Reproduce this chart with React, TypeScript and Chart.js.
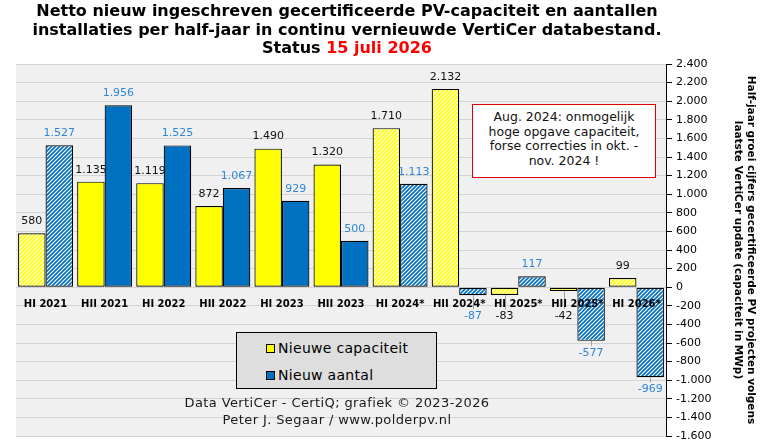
import { useEffect, useRef } from 'react'
import { Chart, registerables } from 'chart.js'

Chart.register(...registerables)

const categories = ['HI 2021', 'HII 2021', 'HI 2022', 'HII 2022', 'HI 2023', 'HII 2023', 'HI 2024*', 'HII 2024*', 'HI 2025*', 'HII 2025*', 'HI 2026*']
const newCapacity = [580, 1135, 1119, 872, 1490, 1320, 1710, 2132, -83, -42, 99]
const newCount = [1527, 1956, 1525, 1067, 929, 500, 1113, -87, 117, -577, -969]
// hatched bars: first half-year + provisional / corrected periods
const hatched = [true, false, false, false, false, false, true, true, true, true, true]

const axisTitle = [
  'Half-jaar groei cijfers gecertificeerde PV projecten volgens',
  'laatste VertiCer update (capaciteit in MWp)',
]
const noteLines = ['Aug. 2024: onmogelijk', 'hoge opgave capaciteit,', 'forse correcties in okt. -', 'nov. 2024 !']

const YELLOW = '#FFFF00'
const BLUE = '#0070C0'
const LABEL_BLUE = '#2F86D8'
const FONT = '"DejaVu Sans", Verdana, sans-serif'

const fmt = (v: number) => {
  const s = Math.abs(v).toString().replace(/\B(?=(\d{3})+(?!\d))/g, '.')
  return (v < 0 ? '-' : '') + s
}

function makeHatch(base: string, stripe: string) {
  const c = document.createElement('canvas')
  c.width = 4
  c.height = 4
  const g = c.getContext('2d')!
  g.fillStyle = base
  g.fillRect(0, 0, 4, 4)
  g.strokeStyle = stripe
  g.lineWidth = 1.2
  g.beginPath()
  g.moveTo(-1, 5); g.lineTo(5, -1)
  g.moveTo(-1, 1); g.lineTo(1, -1)
  g.moveTo(3, 5); g.lineTo(5, 3)
  g.stroke()
  return g.createPattern(c, 'repeat')!
}

const plotBg = {
  id: 'plotBg',
  beforeDraw(chart: any) {
    const { ctx, chartArea: a } = chart
    ctx.save()
    ctx.fillStyle = '#F0F0F0'
    ctx.fillRect(a.left, a.top, a.right - a.left, a.bottom - a.top)
    ctx.restore()
  },
}

const barLabels = {
  id: 'barLabels',
  afterDatasetsDraw(chart: any) {
    const { ctx } = chart
    const yScale = chart.scales.y
    const xScale = chart.scales.x
    const zero = yScale.getPixelForValue(0)
    ctx.save()
    ctx.font = `11px ${FONT}`
    ctx.textAlign = 'center'
    ctx.textBaseline = 'middle'
    chart.data.datasets.forEach((ds: any, di: number) => {
      const meta = chart.getDatasetMeta(di)
      meta.data.forEach((el: any, i: number) => {
        const v = ds.data[i]
        let ly
        if (v >= 0) {
          ly = el.y - 12
        } else {
          ly = Math.max(el.y + 12, zero + 29)
          if (ly - 7 > el.y + 3) {
            ctx.strokeStyle = '#A0A0A0'
            ctx.lineWidth = 1
            ctx.beginPath()
            ctx.moveTo(Math.round(el.x) + 0.5, el.y)
            ctx.lineTo(Math.round(el.x) + 0.5, ly - 7)
            ctx.stroke()
          }
        }
        ctx.fillStyle = di === 0 ? '#111' : LABEL_BLUE
        ctx.fillText(fmt(v), el.x, ly)
      })
    })
    // category names sit just under the zero line
    ctx.font = `bold 10px ${FONT}`
    ctx.fillStyle = '#000'
    categories.forEach((c, i) => {
      ctx.fillText(c, xScale.getPixelForValue(i), zero + 17)
    })
    ctx.restore()
  },
}

export default function App() {
  const chartRef = useRef<HTMLCanvasElement>(null)
  const chartInstance = useRef<Chart | null>(null)

  useEffect(() => {
    if (!chartRef.current) return
    if (chartInstance.current) chartInstance.current.destroy()

    const yellowHatch = makeHatch(YELLOW, '#FFFFFF')
    const blueHatch = makeHatch(BLUE, '#FFFFFF')

    chartInstance.current = new Chart(chartRef.current, {
      type: 'bar',
      data: {
        labels: categories,
        datasets: [
          {
            label: 'Nieuwe capaciteit',
            data: newCapacity,
            backgroundColor: hatched.map(h => (h ? yellowHatch : YELLOW)),
            borderColor: '#000',
            borderWidth: 1.2,
            borderSkipped: false,
            categoryPercentage: 0.93,
            barPercentage: 1,
          },
          {
            label: 'Nieuw aantal',
            data: newCount,
            backgroundColor: hatched.map(h => (h ? blueHatch : BLUE)),
            borderColor: '#000',
            borderWidth: 1.2,
            borderSkipped: false,
            categoryPercentage: 0.93,
            barPercentage: 1,
          },
        ],
      },
      options: {
        responsive: true,
        maintainAspectRatio: false,
        animation: false,
        layout: { padding: { top: 64, left: 16, bottom: 8, right: 2 } },
        plugins: {
          legend: { display: false },
          tooltip: { enabled: false },
        },
        scales: {
          x: { display: false },
          y: {
            position: 'right',
            min: -1600,
            max: 2400,
            afterFit: (scale: any) => {
              scale.width = 93
              // plot edges come from layout padding, not tick label height
              scale.paddingTop = 0
              scale.paddingBottom = 0
            },
            ticks: {
              stepSize: 200,
              callback: (v: any) => fmt(Number(v)),
              font: { family: FONT, size: 11 },
              color: '#000',
              padding: 4,
            },
            grid: { color: '#D4D4D4', tickColor: '#000', tickLength: 6 },
            border: { color: '#000', width: 1 },
            title: {
              display: true,
              text: axisTitle,
              font: { family: FONT, size: 10.5, weight: 'bold', lineHeight: 1.25 },
              color: '#000',
              padding: { top: 2, bottom: 0 },
            },
          },
        },
      },
      plugins: [plotBg, barLabels],
    })

    return () => {
      if (chartInstance.current) {
        chartInstance.current.destroy()
        chartInstance.current = null
      }
    }
  }, [])

  return (
    <div style={{ position: 'fixed', left: 0, top: 0, width: 761, height: 444, background: '#fff', fontFamily: FONT }}>
      <canvas ref={chartRef} />
      <div style={{ position: 'absolute', left: 0, top: 2, width: 694, textAlign: 'center', fontWeight: 'bold', fontSize: 16, lineHeight: '18.5px', color: '#000' }}>
        Netto nieuw ingeschreven gecertificeerde PV-capaciteit en aantallen<br />
        installaties per half-jaar in continu vernieuwde VertiCer databestand.<br />
        Status <span style={{ color: '#FF0000' }}>15 juli 2026</span>
      </div>
      <div style={{ position: 'absolute', left: 472, top: 104, width: 182, height: 67, background: '#fff', border: '1px solid #E00000', fontSize: 12.5, lineHeight: '14.5px', textAlign: 'center', paddingTop: 5, boxSizing: 'content-box', color: '#111' }}>
        {noteLines.map((l, i) => <div key={i}>{l}</div>)}
      </div>
      <div style={{ position: 'absolute', left: 236, top: 332, width: 199, height: 55, background: '#DEDEDE', border: '1px solid #000' }}>
        <div style={{ position: 'absolute', left: 29, top: 7, display: 'flex', alignItems: 'center', fontSize: 14, letterSpacing: 0.3, color: '#000' }}>
          <span style={{ width: 7, height: 7, background: YELLOW, border: '1px solid #000', marginRight: 3, display: 'inline-block' }} />
          Nieuwe capaciteit
        </div>
        <div style={{ position: 'absolute', left: 29, top: 34, display: 'flex', alignItems: 'center', fontSize: 14, letterSpacing: 0.3, color: '#000' }}>
          <span style={{ width: 7, height: 7, background: BLUE, border: '1px solid #000', marginRight: 3, display: 'inline-block' }} />
          Nieuw aantal
        </div>
      </div>
      <div style={{ position: 'absolute', left: 137, top: 394, width: 400, textAlign: 'center', fontSize: 13, letterSpacing: 0.4, lineHeight: '17px', color: '#1a1a1a' }}>
        Data VertiCer - CertiQ; grafiek © 2023-2026<br />
        Peter J. Segaar / www.polderpv.nl
      </div>
    </div>
  )
}
